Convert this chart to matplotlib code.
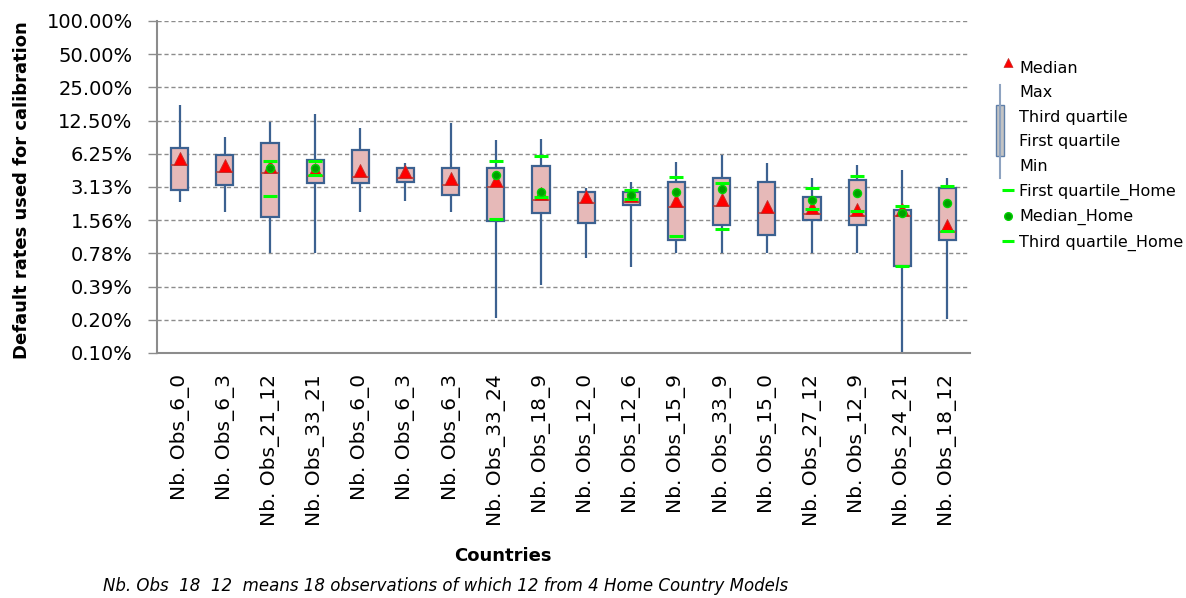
import numpy as np
import matplotlib
matplotlib.use("Agg")
import matplotlib.pyplot as plt
from matplotlib.path import Path
from matplotlib.markers import MarkerStyle
from matplotlib.lines import Line2D
from matplotlib.patches import Rectangle
from matplotlib.ticker import NullLocator

nan = np.nan

# data (default rates in %)
labels = ["Nb. Obs_6_0", "Nb. Obs_6_3", "Nb. Obs_21_12", "Nb. Obs_33_21", "Nb. Obs_6_0",
          "Nb. Obs_6_3", "Nb. Obs_6_3", "Nb. Obs_33_24", "Nb. Obs_18_9", "Nb. Obs_12_0",
          "Nb. Obs_12_6", "Nb. Obs_15_9", "Nb. Obs_33_9", "Nb. Obs_15_0", "Nb. Obs_27_12",
          "Nb. Obs_12_9", "Nb. Obs_24_21", "Nb. Obs_18_12"]
max_v = [17.3, 8.88, 12.1, 14.3, 10.7, 5.15, 11.9, 8.34, 8.51, 3.06, 3.47, 5.27, 6.09, 5.15, 3.77, 4.95, 4.46, 3.77]
q3 = [7.05, 6.09, 7.83, 5.49, 6.77, 4.64, 4.64, 4.64, 4.84, 2.82, 2.82, 3.47, 3.77, 3.47, 2.54, 3.62, 1.93, 3.06]
median = [4.95, 4.27, 4.19, 3.93, 3.85, 3.77, 3.26, 3.13, 2.38, 2.24, 2.29, 2.06, 2.10, 1.82, 1.78, 1.71, 1.70, 1.22]
q1 = [2.94, 3.26, 1.67, 3.40, 3.40, 3.47, 2.64, 1.54, 1.82, 1.47, 2.14, 1.03, 1.41, 1.15, 1.56, 1.41, 0.60, 1.03]
min_v = [2.29, 1.85, 0.78, 0.78, 1.85, 2.33, 1.85, 0.203, 0.40, 0.71, 0.59, 0.78, 0.78, 0.78, 0.78, 0.78, 0.10, 0.199]

home_q1 = [nan, nan, 2.59, 4.01, nan, nan, nan, 1.60, 2.54, nan, 2.43, 1.12, 1.30, nan, 1.97, 1.89, 0.60, 1.25]
home_med = [nan, nan, 4.64, 4.64, nan, nan, nan, 4.01, 2.82, nan, 2.64, 2.82, 3.00, nan, 2.38, 2.76, 1.82, 2.24]
home_q3 = [nan, nan, 5.38, 5.38, nan, nan, nan, 5.38, 5.97, nan, 2.94, 3.85, 3.40, nan, 3.06, 3.93, 2.10, 3.20]

ytick_vals = [100 / 2 ** k for k in range(11)]
ytick_labels = ["100.00%", "50.00%", "25.00%", "12.50%", "6.25%", "3.13%",
                "1.56%", "0.78%", "0.39%", "0.20%", "0.10%"]

blue = "#3C6190"
pink = "#E6B9B8"
grey = "#8C8C8C"
lime = "#00FF00"

fig = plt.figure(figsize=(11.86, 5.98), dpi=100)
ax = fig.add_axes([0.1324, 0.4097, 0.8179 - 0.1324, 0.9649 - 0.4097])

x = np.arange(len(labels))
box_w = 0.38

ax.set_yscale("log", base=2)
ax.set_ylim(100 / 1024, 100)
ax.set_xlim(-0.5, len(labels) - 0.5)

# whiskers + boxes
ax.vlines(x, min_v, max_v, color=blue, lw=1.6, zorder=2)
ax.bar(x, np.array(q3) - np.array(q1), bottom=q1, width=box_w, color=pink,
       edgecolor=blue, linewidth=1.6, zorder=3)
ax.hlines(median, x - box_w / 2, x + box_w / 2, color="#A94442", lw=1.2, zorder=4)

# triangle with its base on the median
tri = MarkerStyle(Path([(-1, 0), (1, 0), (0, 2), (-1, 0)],
                       [Path.MOVETO, Path.LINETO, Path.LINETO, Path.CLOSEPOLY]))
ax.plot(x, median, ls="none", marker=tri, ms=18.7, mfc="#FF0000", mec="#C0302C", mew=0.6, zorder=5)

# home country markers
ax.plot(x, home_q1, ls="none", marker="_", ms=9.4, mew=2.2, color=lime, zorder=6)
ax.plot(x, home_q3, ls="none", marker="_", ms=9.4, mew=2.2, color=lime, zorder=6)
ax.plot(x, home_med, ls="none", marker="o", ms=5.8, mfc="#00A000", mec="#00D400", mew=1, zorder=7)

ax.set_yticks(ytick_vals)
ax.set_yticklabels(ytick_labels)
ax.yaxis.set_minor_locator(NullLocator())
ax.set_xticks(x)
ax.set_xticklabels(labels, rotation=90)

ax.grid(axis="y", ls=(0, (3, 2)), color=grey, lw=1.0)
ax.set_axisbelow(True)
for s in ["top", "right"]:
    ax.spines[s].set_visible(False)
for s in ["left", "bottom"]:
    ax.spines[s].set_color(grey)
    ax.spines[s].set_linewidth(1.5)

ax.tick_params(axis="y", length=6.5, width=1, color=grey, pad=11, labelsize=14)
ax.tick_params(axis="x", length=0, pad=15, labelsize=14.5)

fig.text(0.0186, 0.682, "Default rates used for calibration", rotation=90,
         ha="center", va="center", fontsize=13, fontweight="bold")
fig.text(0.424, 0.0702, "Countries", ha="center", va="center", fontsize=13, fontweight="bold")
fig.text(0.0868, 0.020, "Nb. Obs  18  12  means 18 observations of which 12 from 4 Home Country Models",
         ha="left", va="center", fontsize=12, style="italic")

# legend
h_med = Line2D([], [], ls="none", marker=tri, ms=13, mfc="#FF0000", mec="#C0302C", mew=0.5)
blank = Line2D([], [], ls="none")
h_q = Line2D([], [], ls="none", marker="_", ms=8, mew=2.2, color=lime)
h_dot = Line2D([], [], ls="none", marker="o", ms=5.5, mfc="#00A000", mec="#00D400", mew=1)
handles = [h_med, blank, blank, blank, blank, h_q, h_dot, h_q]
leg_labels = ["Median", "Max", "Third quartile", "First quartile", "Min",
              "First quartile_Home", "Median_Home", "Third quartile_Home"]
fs = 11.5
leg = fig.legend(handles, leg_labels, loc="upper left", bbox_to_anchor=(0.8432, 0.8987),
                 frameon=False, fontsize=fs, handlelength=1.0, handletextpad=0.2,
                 labelspacing=0.6, borderpad=0, borderaxespad=0)

# stock-chart icon spanning Max..Min rows
fig.canvas.draw()
r = fig.canvas.get_renderer()
tb = [t.get_window_extent(r) for t in leg.get_texts()]
W, H = fig.bbox.width, fig.bbox.height
px = fig.dpi / 72.0
hx = tb[0].x0 - (0.2 + 0.5) * fs * px - 8
cy = [(b.y0 + b.y1) / 2 for b in tb]
fig.add_artist(Line2D([hx / W, hx / W], [(cy[1] + 8) / H, (cy[4] - 12) / H],
                      transform=fig.transFigure, color="#8EA3C0", lw=1.5))
fig.add_artist(Rectangle(((hx - 4) / W, (cy[3] - 14) / H), 8 / W, (cy[2] - cy[3] + 26) / H,
                         transform=fig.transFigure, facecolor="#C4C4C4", edgecolor="#5F7FA8", lw=1.0))

fig.savefig("out.png", dpi=100)
